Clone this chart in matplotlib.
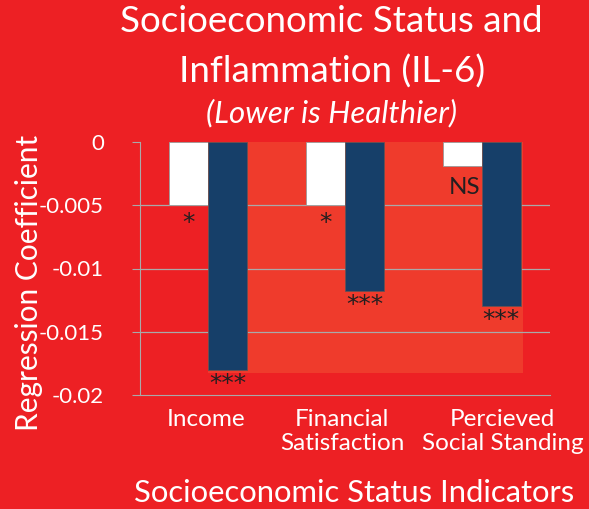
import matplotlib
matplotlib.use("Agg")
import matplotlib.pyplot as plt
import matplotlib.transforms as mtransforms
from matplotlib.patches import Rectangle
import numpy as np

categories = ["Income", "Financial\nSatisfaction", "Percieved\nSocial Standing"]
white_vals = [-0.005, -0.005, -0.0019]
navy_vals = [-0.018, -0.0118, -0.013]
white_sig = ["*", "*", "NS"]
navy_sig = ["***", "***", "***"]
yticks = [0, -0.005, -0.01, -0.015, -0.02]
ytick_labels = ["0", "-0.005", "-0.01", "-0.015", "-0.02"]

BG = "#ED2024"
PANEL = "#EF3B2C"
NAVY = "#163F69"
TXT = "#231F20"
FONT = "Lato"

plt.rcParams['font.family'] = [FONT, 'DejaVu Sans']

fig = plt.figure(figsize=(5.89, 5.09), dpi=100, facecolor=BG)
ax = fig.add_axes([140/589, 1-395/509, 410/589, 253/509])
ax.set_facecolor(BG)

x = np.arange(len(categories))
w = 0.285
ax.set_xlim(-0.5, 2.5)
ax.set_ylim(-0.02, 0)

# lighter panel behind bars
ax.add_patch(Rectangle((0, -0.0183), 2.3, 0.0183, facecolor=PANEL, edgecolor='none', zorder=0.5))

for yv in yticks[1:-1]:
    ax.axhline(yv, color="#A9A9A9", lw=0.9, zorder=1)

ax.bar(x - w/2, white_vals, w, color="white", edgecolor="#9a9a9a", linewidth=0.6, zorder=2)
ax.bar(x + w/2, navy_vals, w, color=NAVY, edgecolor="#6b5050", linewidth=0.6, zorder=2)

for i in range(len(categories)):
    if white_sig[i] == "NS":
        ax.annotate("NS", (x[i] - w/2 + 0.015, white_vals[i]), xytext=(0, -21),
                    textcoords="offset pixels", ha="center", va="center",
                    fontsize=17.5, color=TXT, zorder=3)
    else:
        ax.annotate(white_sig[i], (x[i] - w/2, white_vals[i]), xytext=(0, -25),
                    textcoords="offset pixels", ha="center", va="baseline",
                    fontsize=18, color=TXT, zorder=3, family="DejaVu Sans")
    ax.annotate(navy_sig[i], (x[i] + w/2, navy_vals[i]), xytext=(0, -21),
                textcoords="offset pixels", ha="center", va="baseline",
                fontsize=18, color=TXT, zorder=3, family="DejaVu Sans")

ax.set_yticks(yticks)
ax.set_yticklabels(ytick_labels, fontsize=16, color="white")
ax.set_xticks(x)
ax.set_xticklabels(categories, fontsize=17.5, color="white", linespacing=1.2)
ax.tick_params(axis='x', length=0, pad=10)
ax.tick_params(axis='y', length=6, color="#A9A9A9", pad=20)

offsets = [-2, -3, 21]
for lbl, off in zip(ax.get_xticklabels(), offsets):
    lbl.set_transform(lbl.get_transform() + mtransforms.ScaledTranslation(off/100, 0, fig.dpi_scale_trans))

for s in ["top", "right"]:
    ax.spines[s].set_visible(False)
ax.spines["left"].set_color("#A9A9A9")
ax.spines["bottom"].set_color("#A9A9A9")

fig.text(331/589, 1-22/509, "Socioeconomic Status and", ha="center", va="center", fontsize=26.5, color="white")
fig.text(332/589, 1-72/509, "Inflammation (IL-6)", ha="center", va="center", fontsize=26.5, color="white")
fig.text(332/589, 1-113/509, "(Lower is Healthier)", ha="center", va="center", fontsize=22.5, color="white", style="italic")
fig.text(29/589, 1-283/509, "Regression Coefficient", ha="center", va="center", rotation=90, fontsize=21.5, color="white")
fig.text(354/589, 1-493/509, "Socioeconomic Status Indicators", ha="center", va="center", fontsize=22.3, color="white")

fig.savefig("out.png", dpi=100, facecolor=BG)
